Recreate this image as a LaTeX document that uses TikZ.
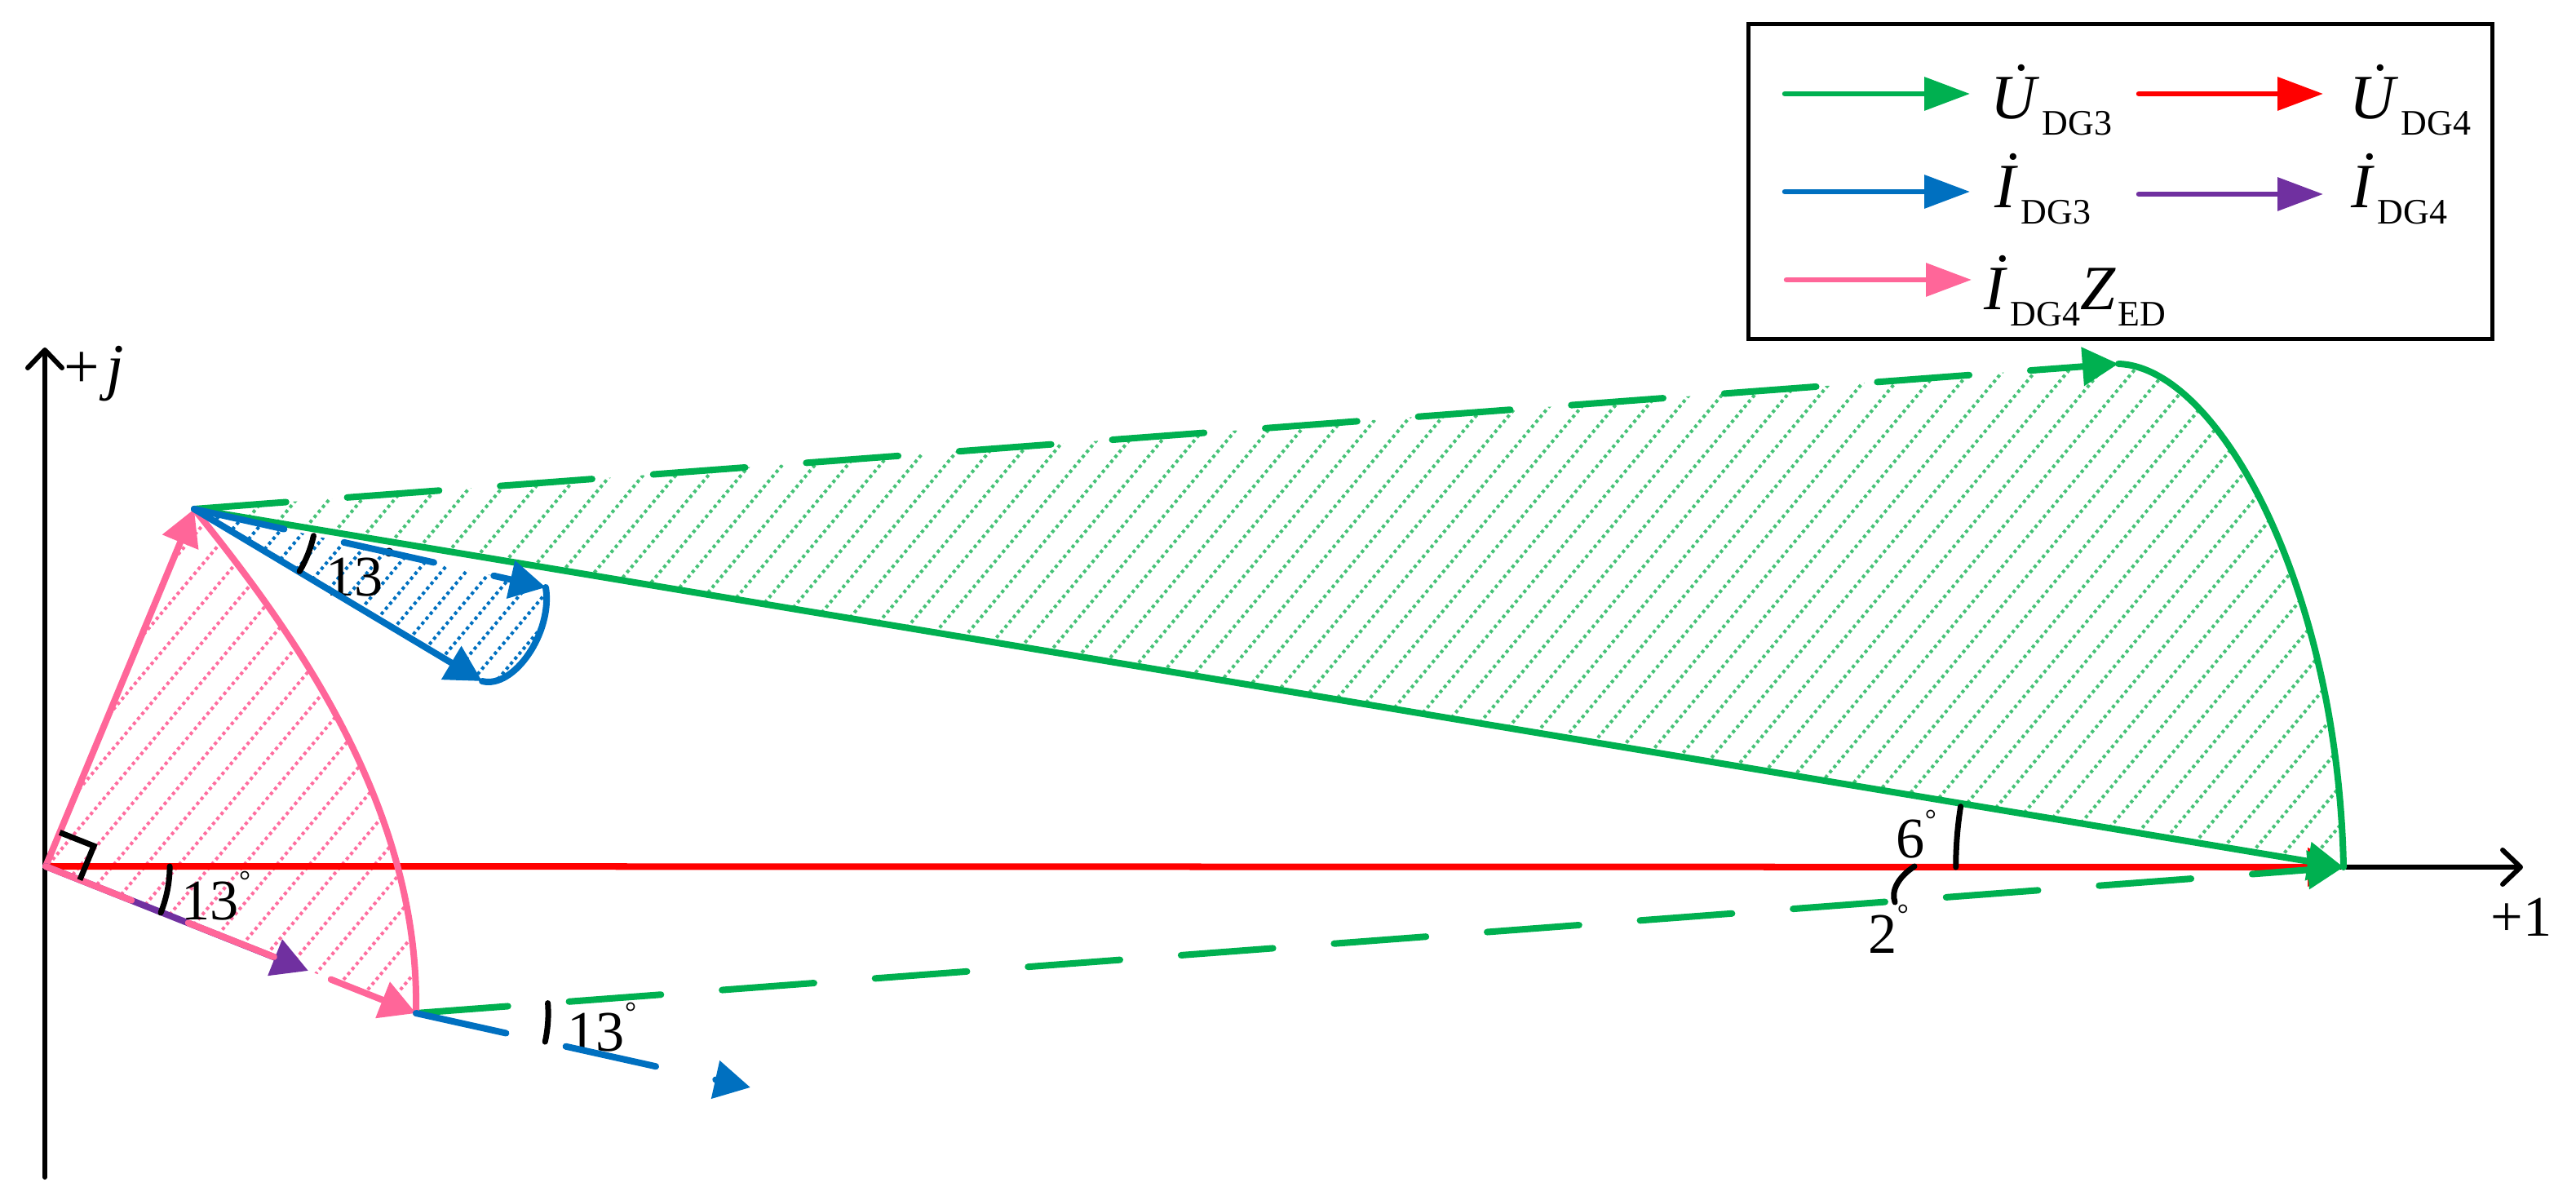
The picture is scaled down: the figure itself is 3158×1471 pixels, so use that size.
\documentclass[tikz,border=0pt]{standalone}
\usepackage{fontspec}
\setmainfont{Liberation Serif}
\usetikzlibrary{arrows.meta,calc}
\definecolor{cgreen}{RGB}{0,176,80}
\definecolor{cred}{RGB}{255,0,0}
\definecolor{cblue}{RGB}{0,112,192}
\definecolor{cpurple}{RGB}{112,48,160}
\definecolor{cpink}{RGB}{255,102,153}
\definecolor{hgreen}{RGB}{70,195,120}
\definecolor{hpink}{RGB}{255,110,160}
\definecolor{hblue}{RGB}{0,112,192}
\newcommand\dgr{\raisebox{0.5em}{\fontsize{10}{12}\selectfont\char"00B0}}
\newcommand\lsub[1]{\kern0.04em\raisebox{-0.25em}{\fontsize{12.5}{14}\selectfont #1}}
\newcommand\dotU{\textit{\accent"02D9 U}}
\newcommand\dotI{\textit{\accent"02D9 I}}
\begin{document}
\begin{tikzpicture}[x=0.01cm,y=-0.01cm,
  vec/.style={line width=0.08cm, line cap=round, line join=round},
  tip/.style={-{Triangle[length=0.44cm,width=0.46cm]}},
  dsh/.style={dash pattern=on 1.13cm off 0.75cm},
  hatchline/.style={line width=0.04cm, dash pattern=on 0.04cm off 0.04cm},
  axis/.style={line width=0.06cm, line cap=round, -{Straight Barb[length=0.22cm,width=0.42cm,round]}},
  angmark/.style={line width=0.07cm, line cap=round},
  lbl/.style={font=\fontsize{20}{24}\selectfont, inner sep=0pt},
  lgd/.style={font=\fontsize{22}{26}\selectfont, inner sep=0pt},
  lgline/.style={line width=0.065cm, line cap=round, -{Triangle[length=0.56cm,width=0.40cm]}}]
\useasboundingbox (0,0) rectangle (3158,1471);
% key points
\coordinate (O) at (56,1062);
\coordinate (P) at (238,624);
\coordinate (Q) at (510,1242);
\coordinate (A) at (2597,446);
\coordinate (B) at (2873,1063);
\coordinate (Bu) at (669,720);
\coordinate (Bl) at (591,835);
\coordinate (Pu) at (378,1190);
\coordinate (Bq) at (920,1333);
\coordinate (Xt) at (3093,1063);
\coordinate (Yt) at (55,426);
\coordinate (Yb) at (55,1443);
% hatching
\begin{scope}
  \clip (P) -- (A) .. controls (2720,450) and (2866,720) .. (B) -- cycle;
  \foreach \c in {-300,-260,...,2900} \draw[hatchline,hgreen] (\c,1070) -- ++(528,-630);
\end{scope}
\begin{scope}
  \clip (O) -- (P) .. controls (364,780) and (515,992) .. (Q) -- cycle;
  \foreach \c in {-500,-460,...,560} \draw[hatchline,hpink] (\c,1250) -- ++(520,-620);
\end{scope}
\begin{scope}
  \clip (P) -- (Bu) .. controls (678,775) and (630,845) .. (Bl) -- cycle;
  \foreach \c in {0,30,...,700} \draw[hatchline,hblue] (\c,845) -- ++(185,-220);
\end{scope}
% axes
\draw[axis] (Yb) -- (Yt);
\draw[axis] (O) -- (Xt);
\node[lbl, font=\fontsize{22}{26}\selectfont, anchor=base west] (jl) at (78,476) {+\kern0.1em\textit{j}};
\node[lbl, anchor=base west] (one) at (3053,1147) {+1};
% red
\draw[vec,cred,tip] (O) -- (B);
% green
\draw[vec,cgreen,tip] (P) -- (B);
\draw[vec,cgreen,dsh,tip] (P) -- (A);
\draw[vec,cgreen,dsh,tip] (Q) -- (B);
\draw[vec,cgreen] (A) .. controls (2720,450) and (2866,720) .. (B);
% pink and purple
\draw[vec,cpink,tip] (O) -- (P);
\draw[vec,cpink] (P) .. controls (364,780) and (515,992) .. (Q);
\draw[vec,cpurple,tip] (O) -- (Pu);
\draw[vec,cpink,dsh,tip] (O) -- (Q);
% angle labels
\node[lbl, anchor=base west] (a13o) at (222,1127) {13\dgr};
\node[lbl, anchor=base west] (a13p) at (399,731) {13\dgr};
\node[lbl, anchor=base west] (a13q) at (695,1288) {13\dgr};
\node[lbl, anchor=base west] (a6) at (2324,1052) {6\dgr};
\node[lbl, anchor=base west] (a2) at (2290,1168) {2\dgr};
% blue
\draw[vec,cblue,tip] (P) -- (Bl);
\draw[vec,cblue,dsh,tip] (P) -- (Bu);
\draw[vec,cblue] (Bu) .. controls (678,775) and (630,845) .. (Bl);
\draw[vec,cblue,dsh,tip] (Q) -- (Bq);
% angle marks
\draw[angmark] (O) ++(0:1.52cm) arc[start angle=0,end angle=-22,radius=1.52cm];
\draw[angmark] (P) ++(-12.6:1.5cm) arc[start angle=-12.6,end angle=-30.6,radius=1.5cm];
\draw[angmark] (Q) ++(4.4:1.62cm) arc[start angle=4.4,end angle=-12.5,radius=1.62cm];
\draw[angmark] (B) ++(180:4.75cm) arc[start angle=180,end angle=171,radius=4.75cm];
\draw[angmark] (2347,1062) .. controls (2327,1075) and (2318,1092) .. (2323,1106);
% right angle
\coordinate (ra) at ($(O)!0.45cm!(P)$);
\coordinate (rb) at ($(O)!0.45cm!(Q)$);
\draw[angmark, line cap=butt] (ra) -- ($(ra)+(rb)-(O)$) -- (rb);
% legend
\node[draw, line width=0.05cm, minimum width=9.11cm, minimum height=3.86cm, anchor=north west, inner sep=0pt] (legend) at (2141,27) {};
\coordinate (g1) at (2188,115); \coordinate (g2) at (2415,115);
\coordinate (r1) at (2622,115); \coordinate (r2) at (2848,115);
\coordinate (b1) at (2188,235); \coordinate (b2) at (2415,235);
\coordinate (p1) at (2622,238); \coordinate (p2) at (2848,238);
\coordinate (k1) at (2190,343); \coordinate (k2) at (2417,343);
\draw[lgline,cgreen] (g1) -- (g2);
\draw[lgline,cred] (r1) -- (r2);
\draw[lgline,cblue] (b1) -- (b2);
\draw[lgline,cpurple] (p1) -- (p2);
\draw[lgline,cpink] (k1) -- (k2);
\node[lgd, anchor=base west] (lU3) at (2440,146) {\dotU\lsub{DG3}};
\node[lgd, anchor=base west] (lU4) at (2880,146) {\dotU\lsub{DG4}};
\node[lgd, anchor=base west] (lI3) at (2445,255) {\dotI\lsub{DG3}};
\node[lgd, anchor=base west] (lI4) at (2882,255) {\dotI\lsub{DG4}};
\node[lgd, anchor=base west] (lIZ) at (2432,380) {\dotI\lsub{DG4}\textit{Z}\lsub{ED}};
\end{tikzpicture}
\end{document}
